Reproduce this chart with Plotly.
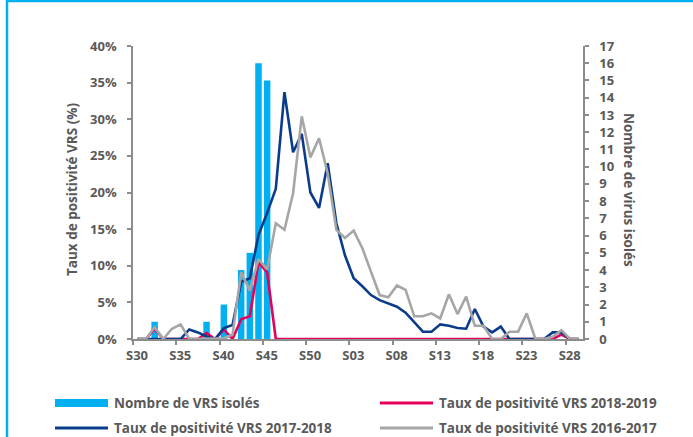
import plotly.graph_objects as go

# Semaines S30 -> S29
weeks = [
    "S30", "S31", "S32", "S33", "S34", "S35", "S36", "S37", "S38", "S39", "S40", "S41", "S42",
    "S43", "S44", "S45", "S46", "S47", "S48", "S49", "S50", "S51", "S52", "S01", "S02", "S03",
    "S04", "S05", "S06", "S07", "S08", "S09", "S10", "S11", "S12", "S13", "S14", "S15", "S16",
    "S17", "S18", "S19", "S20", "S21", "S22", "S23", "S24", "S25", "S26", "S27", "S28", "S29",
]

# Nombre de VRS isolés (axe de droite)
nb_vrs = [
    0, 0, 1, 0, 0, 0, 0, 0, 1, 0, 2, 0, 4,
    5, 16, 15, 0, 0, 0, 0, 0, 0, 0, 0, 0, 0,
    0, 0, 0, 0, 0, 0, 0, 0, 0, 0, 0, 0, 0,
    0, 0, 0, 0, 0, 0, 0, 0, 0, 0, 0, 0, 0,
]

# Taux de positivité (%) (axe de gauche)
taux_2018_2019 = [
    0, 0, 1.4, 0, 0, 0, 0, 0, 0.8, 0, 1.3, 0, 2.7,
    3.1, 10.5, 9.1, 0, 0, 0, 0, 0, 0, 0, 0, 0, 0,
    0, 0, 0, 0, 0, 0, 0, 0, 0, 0, 0, 0, 0,
    0, 0, 0, 0, 0, 0, 0, 0, 0, 0, 0.6, 0, 0,
]
taux_2017_2018 = [
    0, 0, 0, 0, 0, 0, 1.3, 0.9, 0.35, 0, 1.5, 1.9, 7.8,
    8.3, 14.2, 17.2, 20.5, 33.7, 25.5, 28.0, 20.0, 17.9, 24.0, 15.8, 11.4, 8.3,
    7.2, 6.0, 5.3, 4.9, 4.4, 3.6, 2.3, 1.0, 1.0, 2.0, 1.8, 1.5, 1.4,
    4.1, 1.7, 0.9, 1.7, 0, 0, 0, 0, 0, 0.9, 0.9, 0, 0,
]
taux_2016_2017 = [
    0, 0, 1.6, 0, 1.4, 2.0, 0, 0, 0, 0, 0.1, 0.6, 9.1,
    6.6, 10.9, 9.5, 15.8, 14.9, 19.9, 30.4, 24.8, 27.4, 22.6, 14.9, 13.8, 14.8,
    12.4, 9.2, 6.0, 5.7, 7.3, 6.7, 3.1, 3.1, 3.5, 2.8, 6.1, 3.4, 5.8,
    1.8, 1.8, 0, 0, 1.0, 1.0, 3.5, 0, 0, 0.3, 1.2, 0, 0,
]

COL_BAR = "#00B0F0"
COL_1819 = "#E5005B"
COL_1718 = "#0B3C8C"
COL_1617 = "#A6A6A6"
TXT = "#595959"
AXIS = "#8C8C8C"
FONT = "Open Sans"
FS_TICK = 13
FS_TEXT = 13.5

W, H = 693, 437
L, R, T, B = 133, 110, 46, 98
PW, PH = W - L - R, H - T - B


def px(x):
    return (x - L) / PW


def py(y):
    return (H - B - y) / PH


idx = list(range(len(weeks)))

series = [
    ("Taux de positivité VRS 2018-2019", taux_2018_2019, COL_1819),
    ("Taux de positivité VRS 2017-2018", taux_2017_2018, COL_1718),
    ("Taux de positivité VRS 2016-2017", taux_2016_2017, COL_1617),
]

fig = go.Figure()

# barres sur l'axe de base (droite), courbes par-dessus sur l'axe superposé (gauche)
fig.add_trace(go.Bar(
    x=idx, y=nb_vrs, name="Nombre de VRS isolés",
    marker=dict(color=COL_BAR, line=dict(width=0)),
    width=0.75, yaxis="y", showlegend=False,
))
for name, vals, col in series:
    fig.add_trace(go.Scatter(
        x=idx, y=vals, name=name, mode="lines",
        line=dict(color=col, width=2.6), yaxis="y2", showlegend=False,
    ))

tickfont = dict(family=FONT, size=FS_TICK, color=TXT, weight="bold")

fig.update_layout(
    width=W, height=H,
    margin=dict(l=L, r=R, t=T, b=B),
    paper_bgcolor="white", plot_bgcolor="white",
    xaxis=dict(
        range=[-0.5, len(weeks) - 0.5],
        tickvals=[i - 0.5 for i in range(0, len(weeks), 5)],
        ticktext=[weeks[i] for i in range(0, len(weeks), 5)],
        ticklabelshift=4,
        ticks="outside", ticklen=4, tickcolor=AXIS, tickwidth=1.5,
        showline=True, linecolor=AXIS, linewidth=1.5,
        showgrid=False, zeroline=False, tickfont=tickfont,
    ),
    yaxis=dict(
        side="right", range=[0, 17], dtick=1,
        ticks="outside", ticklen=4, tickcolor=AXIS, tickwidth=1.5,
        showline=True, linecolor=AXIS, linewidth=1.5,
        showgrid=False, zeroline=False, tickfont=tickfont,
        ticklabelstandoff=8,
    ),
    yaxis2=dict(
        overlaying="y", side="left", range=[0, 40], dtick=5, ticksuffix="%",
        ticks="outside", ticklen=4, tickcolor=AXIS, tickwidth=1.5,
        showline=True, linecolor=AXIS, linewidth=1.5,
        showgrid=False, zeroline=False, tickfont=tickfont,
        ticklabelstandoff=8,
    ),
    bargap=0.25,
)

annots = [
    dict(text="Taux de positivité VRS (%)", x=px(72), y=py(190), textangle=-90, xanchor="center"),
    dict(text="Nombre de virus isolés", x=px(629), y=py(190), textangle=90, xanchor="center"),
]

# légende dessinée à la main (symboles longs comme dans l'original)
shapes = [
    dict(type="line", x0=px(7), x1=px(7), y0=py(0), y1=py(H), line=dict(color=COL_BAR, width=2.5)),
    dict(type="line", x0=px(6), x1=px(W), y0=py(1), y1=py(1), line=dict(color=COL_BAR, width=2.5)),
    dict(type="rect", x0=px(55), x1=px(108), y0=py(399), y1=py(407), fillcolor=COL_BAR, line=dict(width=0)),
]
legend_pos = [(380, 403), (55, 428), (380, 428)]
for (name, vals, col), (lx, ly) in zip(series, legend_pos):
    shapes.append(dict(type="line", x0=px(lx), x1=px(lx + 53), y0=py(ly), y1=py(ly),
                       line=dict(color=col, width=3)))
    annots.append(dict(text=name, x=px(lx + 57), y=py(ly), xanchor="left"))
annots.append(dict(text="Nombre de VRS isolés", x=px(112), y=py(403), xanchor="left"))

for a in annots:
    a["xref"] = "paper"
    a["yref"] = "paper"
    a["yanchor"] = "middle"
    a["showarrow"] = False
    a["font"] = dict(family=FONT, size=FS_TEXT, color=TXT, weight="bold")
for s in shapes:
    s["xref"] = "paper"
    s["yref"] = "paper"

fig.update_layout(annotations=annots, shapes=shapes)

fig.write_html("out.html", config={"displayModeBar": False},
               post_script="document.body.style.margin='0';")
